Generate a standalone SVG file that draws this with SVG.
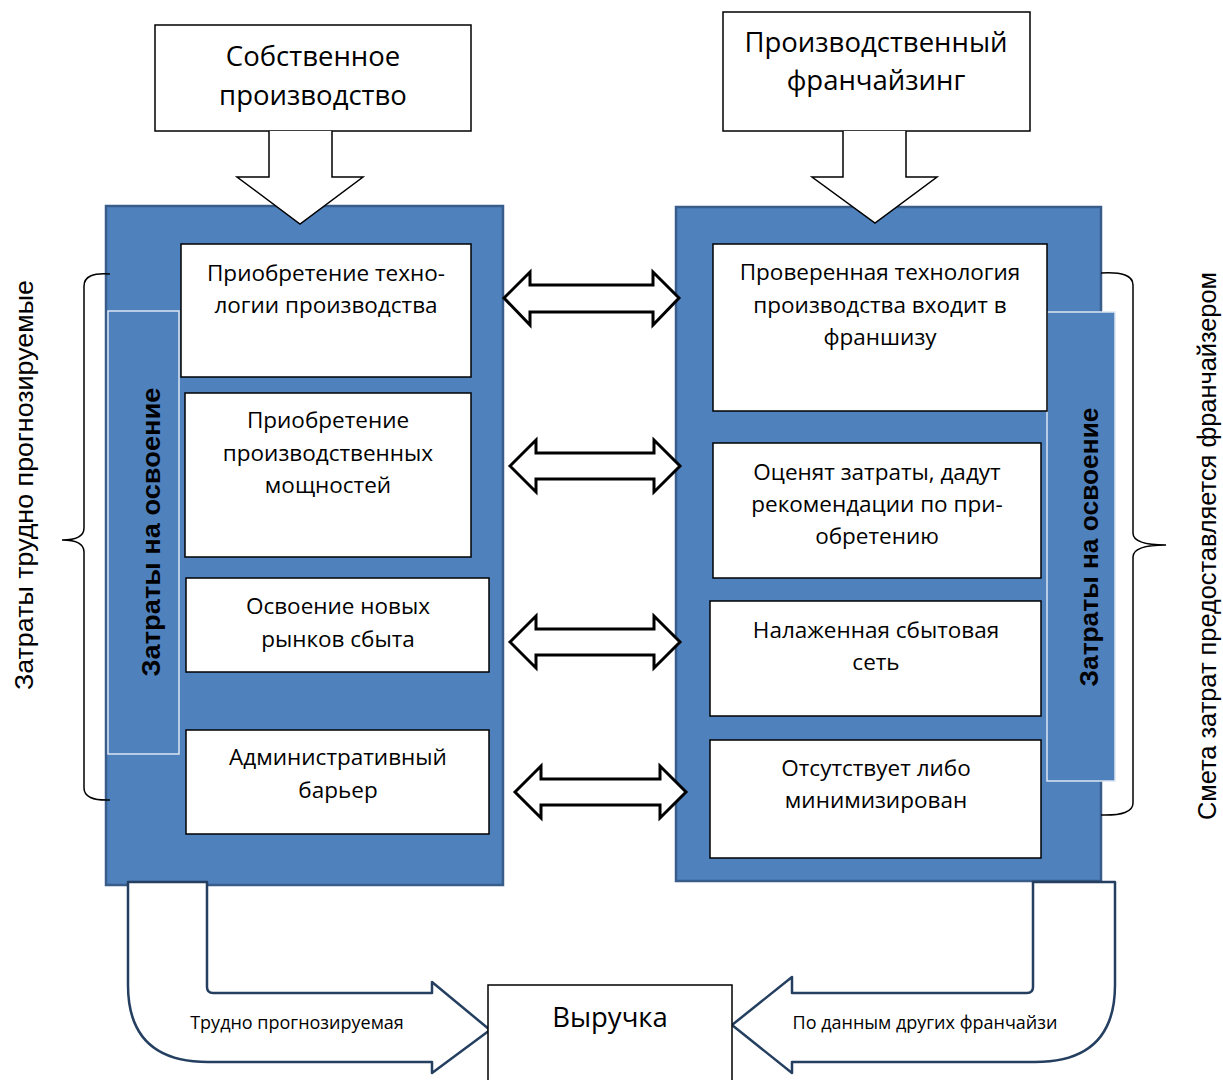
<svg xmlns="http://www.w3.org/2000/svg" width="1223" height="1080" viewBox="0 0 1223 1080">
<style>
.box{fill:#fff;stroke:#000;stroke-width:1.5}
.cont{fill:#4F81BD;stroke:#385D8A;stroke-width:2.5}
.strip{fill:#4F81BD;stroke:#DCE6F2;stroke-width:1.5}
.t{font-family:"Open Sans","Noto Sans",sans-serif;font-size:22.5px;fill:#000;text-anchor:middle}
.tt{font-family:"Open Sans","Noto Sans",sans-serif;font-size:27.5px;fill:#000;text-anchor:middle}
.st{font-family:"Liberation Sans",Arial,sans-serif;font-size:26px;font-weight:bold;fill:#000;text-anchor:middle}
.side{font-family:"Liberation Sans",Arial,sans-serif;font-size:25px;fill:#000;text-anchor:middle}
.small{font-family:"Open Sans","Noto Sans",sans-serif;font-size:18px;fill:#000;text-anchor:middle}
.dbl{fill:#fff;stroke:#000;stroke-width:3;stroke-linejoin:miter}
.blk{fill:#fff;stroke:#000;stroke-width:1.5}
.curv{fill:#fff;stroke:#243F60;stroke-width:2.5;stroke-linejoin:round}
.brace{fill:none;stroke:#000;stroke-width:1.5}
</style>

<g id="containers">
<rect id="left-container" class="cont" x="106" y="206" width="397" height="679"/>
<rect id="right-container" class="cont" x="676" y="207" width="425" height="674"/>
</g>

<g id="top-left">
<rect class="box" x="155" y="25" width="316" height="106"/>
<text class="tt" x="313" y="66">Собственное</text>
<text class="tt" x="313" y="105">производство</text>
</g>
<g id="top-right">
<rect class="box" x="723" y="12" width="307" height="119"/>
<text class="tt" x="876" y="52">Производственный</text>
<text class="tt" x="876" y="90">франчайзинг</text>
</g>

<g id="connectors">
<path class="blk" d="M269,131 L269,177 L237,177 L300,224 L363,177 L332,177 L332,131"/>
<path class="blk" d="M843,131 L843,177 L812,177 L875,223 L937,177 L906,177 L906,131"/>
<path class="dbl" d="M504,298 L530,272 L530,285 L653,285 L653,272 L679,298 L653,325 L653,312 L530,312 L530,325 Z"/>
<path class="dbl" d="M510,466 L536,440 L536,453 L654,453 L654,440 L680,466 L654,492 L654,479 L536,479 L536,492 Z"/>
<path class="dbl" d="M510,642 L536,616 L536,629 L654,629 L654,616 L680,642 L654,668 L654,655 L536,655 L536,668 Z"/>
<path class="dbl" d="M515,792 L541,766 L541,779 L660,779 L660,766 L686,792 L660,818 L660,805 L541,805 L541,818 Z"/>
<path class="curv" d="M128,882 L128,985 Q128,1062 208,1062 L432,1062 L432,1073 L490,1030 L432,982 L432,993 L213,993 Q207,993 207,987 L207,882 Z"/>
<path class="curv" d="M1033,882 L1033,987 Q1033,993 1027,993 L792,993 L792,977 L732,1025 L792,1073 L792,1062 L1035,1062 Q1115,1062 1115,985 L1115,882 Z"/>
</g>

<g id="left-strip">
<rect class="strip" x="108" y="311" width="71" height="443"/>
<text class="st" transform="translate(160,532) rotate(-90)" textLength="289" lengthAdjust="spacingAndGlyphs">Затраты на освоение</text>
</g>
<g id="right-strip">
<rect class="strip" x="1047" y="312" width="68" height="469"/>
<text class="st" transform="translate(1098,547) rotate(-90)" textLength="279" lengthAdjust="spacingAndGlyphs">Затраты на освоение</text>
</g>

<g id="l1"><rect class="box" x="181" y="244" width="290" height="133"/>
<text class="t" x="326" y="281">Приобретение техно-</text>
<text class="t" x="326" y="313">логии производства</text></g>
<g id="l2"><rect class="box" x="185" y="393" width="286" height="164"/>
<text class="t" x="328" y="428">Приобретение</text>
<text class="t" x="328" y="461">производственных</text>
<text class="t" x="328" y="493">мощностей</text></g>
<g id="l3"><rect class="box" x="186" y="578" width="303" height="94"/>
<text class="t" x="338" y="614">Освоение новых</text>
<text class="t" x="338" y="647">рынков сбыта</text></g>
<g id="l4"><rect class="box" x="186" y="730" width="303" height="104"/>
<text class="t" x="338" y="765">Административный</text>
<text class="t" x="338" y="798">барьер</text></g>

<g id="r1"><rect class="box" x="713" y="244" width="334" height="167"/>
<text class="t" x="880" y="280">Проверенная технология</text>
<text class="t" x="880" y="313">производства входит в</text>
<text class="t" x="880" y="345">франшизу</text></g>
<g id="r2"><rect class="box" x="713" y="443" width="328" height="135"/>
<text class="t" x="877" y="480">Оценят затраты, дадут</text>
<text class="t" x="877" y="512">рекомендации по при-</text>
<text class="t" x="877" y="544">обретению</text></g>
<g id="r3"><rect class="box" x="710" y="601" width="331" height="115"/>
<text class="t" x="876" y="638">Налаженная сбытовая</text>
<text class="t" x="876" y="670">сеть</text></g>
<g id="r4"><rect class="box" x="710" y="740" width="331" height="118"/>
<text class="t" x="876" y="776">Отсутствует либо</text>
<text class="t" x="876" y="808">минимизирован</text></g>

<g id="revenue"><rect class="box" x="488" y="985" width="244" height="100"/>
<text class="tt" x="610" y="1027">Выручка</text></g>

<g id="labels">
<text class="small" x="297" y="1029">Трудно прогнозируемая</text>
<text class="small" x="925" y="1029">По данным других франчайзи</text>
</g>

<g id="left-brace">
<path class="brace" d="M110,274 Q84,272 84,286 L84,528 Q84,540 62,540 Q84,540 84,552 L84,788 Q84,801 110,800"/>
<text class="side" transform="translate(33,485) rotate(-90)" textLength="410" lengthAdjust="spacingAndGlyphs">Затраты трудно прогнозируемые</text>
</g>
<g id="right-brace">
<path class="brace" d="M1101,273 Q1133,271 1133,285 L1133,533 Q1133,545 1166,545 Q1133,545 1133,557 L1133,803 Q1133,816 1101,815"/>
<text class="side" transform="translate(1216,546) rotate(-90)" textLength="548" lengthAdjust="spacingAndGlyphs">Смета затрат предоставляется франчайзером</text>
</g>
</svg>
